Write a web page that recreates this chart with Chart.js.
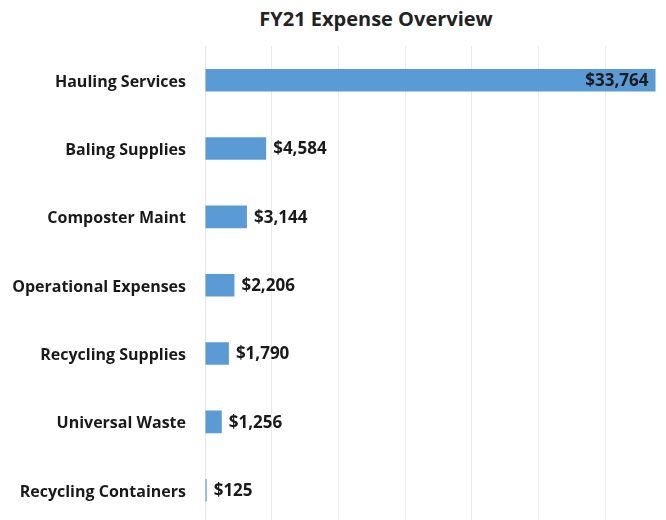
<!DOCTYPE html>
<html>
<head>
    <title>FY21 Expense Overview</title>
    <script src="https://cdn.jsdelivr.net/npm/chart.js@4.4.0/dist/chart.umd.min.js"></script>
    <style>
        body { margin: 0; overflow: hidden; background: #fff; width: 666px; height: 520px; position: relative; }
        #title { position: absolute; top: 5px; left: 86px; width: 580px; text-align: center;
                 font: bold 20px "Open Sans", sans-serif; color: #222; }
        canvas { position: absolute; top: 0; left: 0; }
    </style>
</head>
<body>

<div id="title">FY21 Expense Overview</div>
<canvas id="expenseChart" width="672" height="553"></canvas>

<script>
    var categories = ['Hauling Services', 'Baling Supplies', 'Composter Maint', 'Operational Expenses',
                      'Recycling Supplies', 'Universal Waste', 'Recycling Containers'];
    var expenses = [33764, 4584, 3144, 2206, 1790, 1256, 125];

    // value labels at the end of each bar, inside if it would run off the chart
    var barLabels = {
        id: 'barLabels',
        afterDatasetsDraw: function(chart) {
            var ctx = chart.ctx;
            var meta = chart.getDatasetMeta(0);
            ctx.save();
            ctx.font = 'bold 17px "Open Sans", sans-serif';
            ctx.fillStyle = '#1a1a1a';
            ctx.textBaseline = 'middle';
            meta.data.forEach(function(bar, i) {
                var text = '$' + expenses[i].toLocaleString('en-US');
                var w = ctx.measureText(text).width;
                if (bar.x + 8 + w > 660) {
                    ctx.textAlign = 'right';
                    ctx.fillText(text, bar.x - 7, bar.y + 1);
                } else {
                    ctx.textAlign = 'left';
                    ctx.fillText(text, bar.x + 7, bar.y + 1);
                }
            });
            ctx.restore();
        }
    };

    var ctx = document.getElementById('expenseChart').getContext('2d');
    var chart = new Chart(ctx, {
        type: 'bar',
        data: {
            labels: categories,
            datasets: [{
                label: 'Expense',
                backgroundColor: '#5B9BD5',
                data: expenses,
                categoryPercentage: 1,
                barPercentage: 0.33
            }]
        },
        options: {
            indexAxis: 'y',
            responsive: false,
            animation: false,
            layout: { padding: { top: 46, bottom: 0, left: 0, right: 0 } },
            plugins: {
                legend: { display: false },
                title: { display: false },
                tooltip: { enabled: false }
            },
            scales: {
                x: {
                    min: 0,
                    max: 35000,
                    ticks: { display: false, stepSize: 5000 },
                    grid: { color: '#ececec', drawTicks: false },
                    border: { display: false },
                    afterFit: function(scale) { scale.height = 0; }
                },
                y: {
                    grid: { display: false, drawTicks: false },
                    border: { color: '#e6e6e6' },
                    ticks: {
                        padding: 19,
                        labelOffset: 2,
                        color: '#1a1a1a',
                        font: { family: '"Open Sans", sans-serif', size: 16, weight: 'bold' }
                    },
                    afterFit: function(scale) { scale.width = 205; }
                }
            }
        },
        plugins: [barLabels]
    });
</script>
</body>
</html>
